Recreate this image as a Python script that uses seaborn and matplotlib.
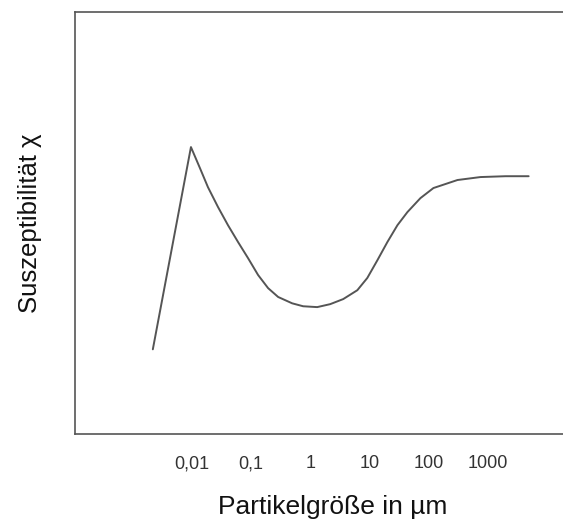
import numpy as np
import pandas as pd
import matplotlib
matplotlib.use("Agg")
import matplotlib.pyplot as plt
import seaborn as sns

sns.set_style("white")
plt.rcParams['font.family'] = ['Liberation Sans', 'DejaVu Sans']

# particle size in um (log scale) and relative susceptibility (arbitrary units)
size_um = [0.00218, 0.00962, 0.01368, 0.01866, 0.0276, 0.0407, 0.0603,
           0.0889, 0.1315, 0.194, 0.287, 0.495, 0.760, 1.315, 2.18, 3.62,
           6.27, 9.25, 13.7, 20.2, 29.9, 44.1, 73.1, 121.6, 310, 760,
           2018, 4955]
chi = [0.201, 0.680, 0.630, 0.585, 0.538, 0.495, 0.455,
       0.417, 0.377, 0.346, 0.325, 0.310, 0.303, 0.301, 0.308, 0.320,
       0.341, 0.370, 0.412, 0.455, 0.495, 0.526, 0.559, 0.583, 0.602, 0.609,
       0.611, 0.611]

tick_pos = [0.01, 0.1, 1, 10, 100, 1000]
tick_lbl = ["0,01", "0,1", "1", "10", "100", "1000"]

df = pd.DataFrame({"size": size_um, "chi": chi})

fig = plt.figure(figsize=(5.63, 5.20), dpi=100)
ax = fig.add_axes([0.133, 0.165, 0.88, 0.812])
sns.lineplot(data=df, x="size", y="chi", sort=False, color="#555555",
             linewidth=1.4, ax=ax, solid_joinstyle="round")
ax.set_xscale("log")
ax.set_xlim(10 ** -3.98, 10 ** 4.4)
ax.set_ylim(0, 1)

ax.set_xticks(tick_pos)
ax.set_xticklabels(tick_lbl)
ax.minorticks_off()
ax.set_yticks([])
ax.tick_params(axis="x", length=0, pad=15, labelsize=13, colors="#333333")

for side in ["left", "bottom", "top"]:
    ax.spines[side].set_color("#555555")
    ax.spines[side].set_linewidth(1.2)
ax.spines["right"].set_visible(False)

ax.set_xlabel("Partikelgröße in µm", fontsize=19, labelpad=13, color="#111111")
ax.xaxis.set_label_coords(0.52, -0.145)
ax.set_ylabel("Suszeptibilität χ", fontsize=18.5, labelpad=24, color="#111111")

fig.savefig("out.png", dpi=100)
